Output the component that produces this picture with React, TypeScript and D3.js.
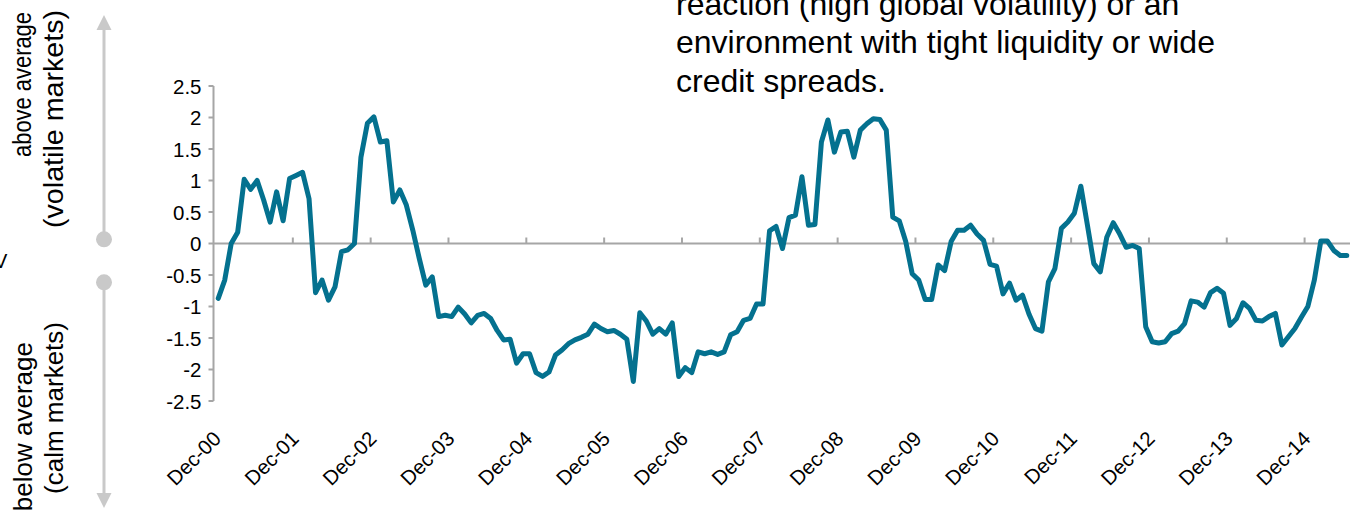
import React from "react";
import * as d3 from "d3";

// Monthly index values, Dec-2000 .. Jun-2015
const values: number[] = [
  -0.87, -0.58, 0.0, 0.18, 1.02, 0.86, 1.0, 0.69, 0.34, 0.82, 0.36, 1.03,
  1.08, 1.13, 0.71, -0.78, -0.58, -0.9, -0.69, -0.13, -0.1, 0.0, 1.37, 1.91,
  2.01, 1.61, 1.63, 0.66, 0.85, 0.61, 0.21, -0.24, -0.66, -0.53, -1.16, -1.14,
  -1.16, -1.01, -1.12, -1.26, -1.14, -1.11, -1.19, -1.38, -1.53, -1.52, -1.9, -1.75,
  -1.75, -2.05, -2.11, -2.04, -1.77, -1.69, -1.59, -1.53, -1.49, -1.44, -1.28, -1.35,
  -1.4, -1.38, -1.44, -1.52, -2.19, -1.1, -1.23, -1.44, -1.35, -1.44, -1.26, -2.11,
  -1.97, -2.05, -1.72, -1.75, -1.72, -1.76, -1.72, -1.45, -1.4, -1.22, -1.19, -0.96,
  -0.96, 0.2, 0.27, -0.08, 0.41, 0.45, 1.06, 0.29, 0.3, 1.61, 1.96, 1.45,
  1.77, 1.78, 1.37, 1.8, 1.9, 1.98, 1.97, 1.8, 0.42, 0.36, 0.03, -0.48,
  -0.58, -0.89, -0.89, -0.34, -0.43, 0.03, 0.21, 0.21, 0.29, 0.15, 0.05, -0.33,
  -0.36, -0.8, -0.63, -0.9, -0.82, -1.12, -1.35, -1.39, -0.61, -0.4, 0.24, 0.34,
  0.48, 0.91, 0.3, -0.32, -0.45, 0.1, 0.33, 0.15, -0.06, -0.03, -0.08, -1.32,
  -1.56, -1.58, -1.56, -1.43, -1.39, -1.27, -0.91, -0.93, -1.01, -0.78, -0.71, -0.79,
  -1.3, -1.19, -0.94, -1.03, -1.22, -1.23, -1.16, -1.11, -1.61, -1.48, -1.35, -1.17,
  -1.0, -0.58, 0.04, 0.04, -0.11, -0.19, -0.19,
];

const xTickLabels: string[] = [
  "Dec-00", "Dec-01", "Dec-02", "Dec-03", "Dec-04", "Dec-05", "Dec-06", "Dec-07",
  "Dec-08", "Dec-09", "Dec-10", "Dec-11", "Dec-12", "Dec-13", "Dec-14",
];

const yTicks: number[] = [2.5, 2, 1.5, 1, 0.5, 0, -0.5, -1, -1.5, -2, -2.5];

const noteLines: string[] = [
  "reaction (high global volatility) or an",
  "environment with tight liquidity or wide",
  "credit spreads.",
];

const sideTop: string[] = ["above average", "(volatile markets)"];
const sideBottom: string[] = ["below average", "(calm markets)"];

const FONT = "'Liberation Sans', Arial, sans-serif";
const LINE_COLOR = "#04718f";
const AXIS_COLOR = "#a6a6a6";
const ARROW_COLOR = "#c9c9c9";

export default function App() {
  const W = 1352;
  const H = 513;
  const left = 215;
  const right = 1350;

  const x = d3
    .scaleBand<number>()
    .domain(d3.range(values.length))
    .range([left, right])
    .paddingInner(0)
    .paddingOuter(0);
  const cx = (i: number) => (x(i) as number) + x.bandwidth() / 2;

  const y = d3.scaleLinear().domain([-2.5, 2.5]).range([401, 86]);
  const y0 = y(0);

  const line = d3
    .line<number>()
    .x((_, i) => cx(i))
    .y((d) => y(d));

  const tickIdx = xTickLabels.map((_, k) => k * 12);

  return (
    <svg
      width={W}
      height={H}
      style={{ position: "absolute", left: 0, top: 0, background: "#fff" }}
      fontFamily={FONT}
    >
      {/* annotation text */}
      {noteLines.map((t, i) => (
        <text key={t} x={676} y={15 + i * 38.4} fontSize={32} fill="#000">
          {t}
        </text>
      ))}

      {/* side labels */}
      <text
        transform="translate(31.2,12) rotate(-90)"
        textAnchor="end"
        fontSize={25}
        textLength={145}
        lengthAdjust="spacingAndGlyphs"
        fill="#000"
      >
        {sideTop[0]}
      </text>
      <text
        transform="translate(62.5,10) rotate(-90)"
        textAnchor="end"
        fontSize={28.5}
        textLength={218}
        lengthAdjust="spacingAndGlyphs"
        fill="#000"
      >
        {sideTop[1]}
      </text>
      {sideBottom.map((t, i) => (
        <text
          key={t}
          transform={`translate(${i === 0 ? 31.6 : 62.5},${i === 0 ? 342 : 322}) rotate(-90)`}
          textAnchor="end"
          fontSize={26}
          fill="#000"
        >
          {t}
        </text>
      ))}
      <text x={-6} y={268} fontSize={20} fill="#000">
        V
      </text>

      {/* arrows */}
      <line x1={104} x2={104} y1={28} y2={239} stroke={ARROW_COLOR} strokeWidth={3} />
      <path d="M104,15 L96.5,30 L111.5,30 Z" fill={ARROW_COLOR} />
      <circle cx={104} cy={239.3} r={8} fill={ARROW_COLOR} />
      <line x1={104} x2={104} y1={282} y2={495} stroke={ARROW_COLOR} strokeWidth={3} />
      <path d="M104,508 L96.5,493 L111.5,493 Z" fill={ARROW_COLOR} />
      <circle cx={104} cy={282.3} r={8} fill={ARROW_COLOR} />

      {/* y axis */}
      <line x1={213.5} x2={213.5} y1={y(2.5)} y2={y(-2.5)} stroke={AXIS_COLOR} strokeWidth={2} />
      {yTicks.map((v) => (
        <g key={v}>
          <line x1={208.5} x2={213.5} y1={y(v)} y2={y(v)} stroke={AXIS_COLOR} strokeWidth={2} />
          <text
            x={201.5}
            y={y(v)}
            textAnchor="end"
            dominantBaseline="central"
            fontSize={20.5}
            fill="#000"
          >
            {String(v)}
          </text>
        </g>
      ))}

      {/* x axis at zero */}
      <line x1={213.5} x2={right} y1={y0} y2={y0} stroke={AXIS_COLOR} strokeWidth={2} />
      {tickIdx.slice(1).map((i) => (
        <line
          key={i}
          x1={x(i) as number}
          x2={x(i) as number}
          y1={y0 - 6}
          y2={y0}
          stroke={AXIS_COLOR}
          strokeWidth={2}
        />
      ))}
      {xTickLabels.map((t, k) => (
        <text
          key={t}
          transform={`translate(${cx(tickIdx[k]) + 4},${440}) rotate(-45)`}
          textAnchor="end"
          fontSize={20.5}
          fill="#000"
        >
          {t}
        </text>
      ))}

      {/* series */}
      <path
        d={line(values) || ""}
        fill="none"
        stroke={LINE_COLOR}
        strokeWidth={5}
        strokeLinejoin="round"
        strokeLinecap="round"
      />
    </svg>
  );
}
